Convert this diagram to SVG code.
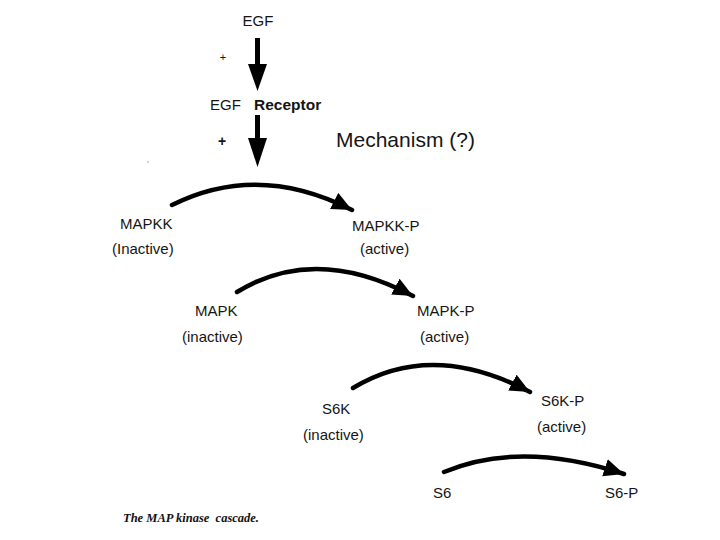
<svg xmlns="http://www.w3.org/2000/svg" width="720" height="540" viewBox="0 0 720 540">
<style>
  .t { font-family: "Liberation Sans", Arial, sans-serif; font-size: 15px; fill: #151515; }
  .b { font-weight: bold; }
  .arc { fill: none; stroke: #000; stroke-width: 4.5; stroke-linecap: round; }
  .cap { font-family: "Liberation Serif", "Times New Roman", serif; font-style: italic; font-weight: bold; font-size: 12.5px; fill: #111; }
</style>
<defs>
  <marker id="ah" markerUnits="userSpaceOnUse" markerWidth="24" markerHeight="20" refX="20" refY="9" orient="auto">
    <path d="M0,0 L20,9 L0,18 Z" fill="#000"/>
  </marker>
</defs>
<rect width="720" height="540" fill="#fff"/>

<g id="egf"><text class="t" x="258" y="26" text-anchor="middle" font-size="14">EGF</text></g>
<g id="egf-receptor"><text class="t" x="210" y="110">EGF <tspan class="b" x="254" style="font-size:15.5px">Receptor</tspan></text></g>
<g id="mechanism"><text class="t" x="336" y="147" style="font-size:21px">Mechanism (?)</text></g>
<g id="plus1"><text class="t" x="223" y="61" text-anchor="middle" style="font-size:11px">+</text></g>
<g id="plus2"><text class="t b" x="222" y="146" text-anchor="middle" style="font-size:14px">+</text></g>

<g id="mapkk"><text class="t" x="120" y="229">MAPKK</text><text class="t" x="112" y="254">(Inactive)</text></g>
<g id="mapkk-p"><text class="t" x="352" y="231">MAPKK-P</text><text class="t" x="360" y="254">(active)</text></g>
<g id="mapk"><text class="t" x="195" y="316">MAPK</text><text class="t" x="182" y="342">(inactive)</text></g>
<g id="mapk-p"><text class="t" x="417" y="316">MAPK-P</text><text class="t" x="420" y="342">(active)</text></g>
<g id="s6k"><text class="t" x="322" y="414">S6K</text><text class="t" x="303" y="440">(inactive)</text></g>
<g id="s6k-p"><text class="t" x="541" y="406">S6K-P</text><text class="t" x="537" y="432">(active)</text></g>
<g id="s6"><text class="t" x="433" y="498">S6</text></g>
<g id="s6-p"><text class="t" x="605" y="498">S6-P</text></g>

<g id="connectors">
  <rect x="255" y="38" width="5" height="30" fill="#000"/>
  <polygon points="248,64 267,64 257.5,91" fill="#000"/>
  <rect x="255" y="115" width="5" height="26" fill="#000"/>
  <polygon points="248,138 267,138 257.5,167" fill="#000"/>
  <path class="arc" d="M172,205 Q258,162 352,210" marker-end="url(#ah)"/>
  <path class="arc" d="M237,292 Q315,244 413,296" marker-end="url(#ah)"/>
  <path class="arc" d="M353,388 Q432,340 530,392" marker-end="url(#ah)"/>
  <path class="arc" d="M444,472 Q520,440 624,474" marker-end="url(#ah)"/>
</g>

<circle cx="148" cy="162" r="0.7" fill="#888"/>
<g id="caption"><text class="cap" x="123" y="522" xml:space="preserve">The MAP kinase  cascade.</text></g>
</svg>
